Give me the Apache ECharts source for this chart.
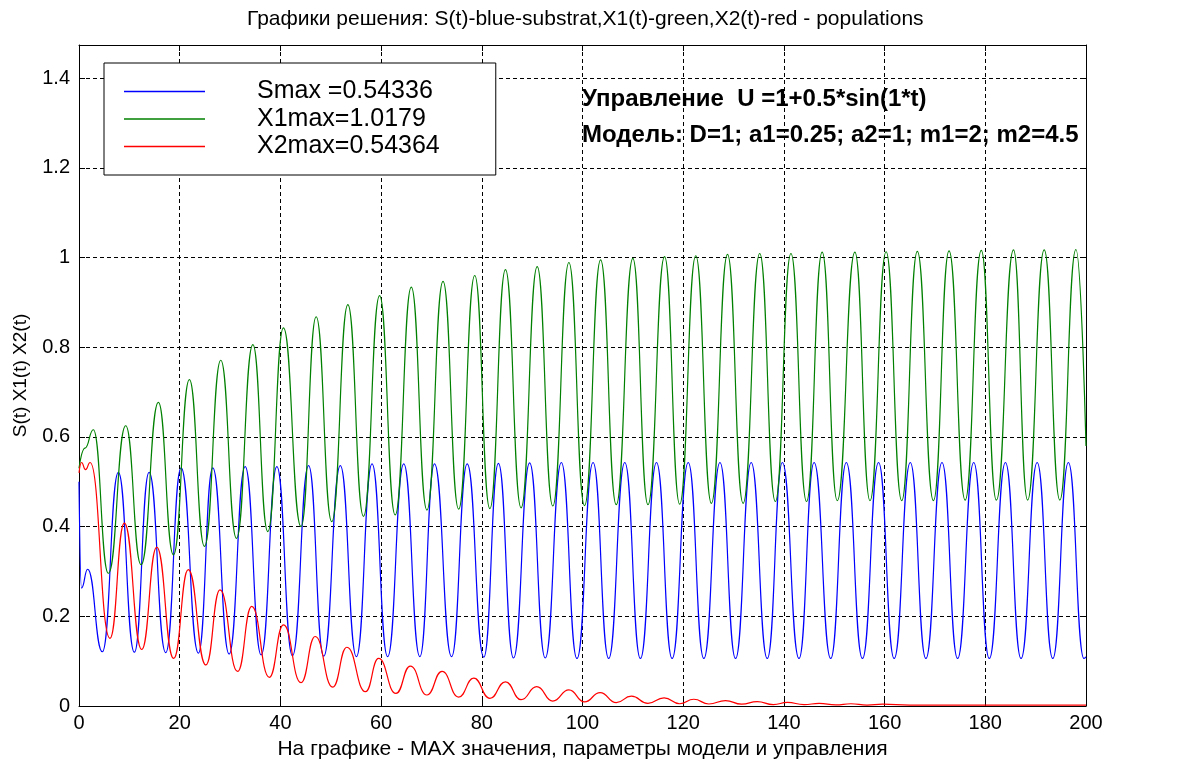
<!DOCTYPE html>
<html>
<head>
<meta charset="utf-8">
<script src="https://cdn.jsdelivr.net/npm/echarts@6/dist/echarts.min.js"></script>
<style>
  html, body { margin: 0; padding: 0; background: #ffffff; }
  #chart { width: 1189px; height: 767px; }
</style>
</head>
<body>
<div id="chart"></div>
<script>
// time points and values (peaks / troughs of each curve)
const sTime = [0, 0.5, 1.72, 4.64, 7.82, 11.0, 13.92, 17.23, 20.28, 23.72, 26.57, 29.82, 33.0, 36.18, 39.3,
  42.4, 45.6, 48.6, 51.9, 55.1, 58.2, 61.3, 64.5, 67.7, 70.6, 74.0, 77.1, 80.4, 83.3, 86.3, 89.5,
  92.6, 95.8, 98.9, 102.1, 105.2, 108.4, 111.5, 114.7, 117.8, 121.0, 124.1, 127.3, 130.4, 133.5,
  136.7, 139.7, 143.0, 146.0, 149.3, 152.4, 155.6, 158.8, 161.9, 165.1, 168.2, 171.4, 174.5, 177.7,
  180.8, 184.0, 187.1, 190.3, 193.4, 196.5, 199.6, 200]
const sValue = [0.50, 0.263, 0.305, 0.121, 0.521, 0.120, 0.521, 0.119, 0.531, 0.118, 0.531, 0.116, 0.534, 0.114, 0.534,
  0.112, 0.536, 0.111, 0.536, 0.110, 0.540, 0.110, 0.540, 0.110, 0.540, 0.110, 0.540, 0.109, 0.541, 0.107, 0.542,
  0.107, 0.543, 0.106, 0.543, 0.106, 0.543, 0.106, 0.543, 0.106, 0.543, 0.106, 0.543, 0.106, 0.543,
  0.106, 0.543, 0.106, 0.543, 0.106, 0.543, 0.106, 0.543, 0.106, 0.543, 0.106, 0.543, 0.106, 0.543,
  0.106, 0.543, 0.106, 0.543, 0.106, 0.543, 0.106, 0.11]

const x1Time = [0, 1.2, 2.85, 5.83, 9.28, 12.33, 15.77, 18.75, 21.93, 24.92, 28.16, 31.28, 34.53, 37.5,
  40.6, 44.1, 47.1, 50.2, 53.4, 56.5, 59.7, 62.8, 66.0, 69.1, 72.3, 75.4, 78.6, 81.6, 84.7, 87.8,
  91.0, 94.1, 97.3, 100.4, 103.6, 106.7, 110.0, 113.0, 116.3, 119.3, 122.5, 125.6, 128.8, 131.9,
  135.2, 138.3, 141.4, 144.5, 147.6, 150.6, 154.1, 157.1, 160.3, 163.4, 166.5, 169.7, 172.8, 176.0,
  179.2, 182.2, 185.6, 188.4, 191.7, 194.8, 198.0, 200]
const x1Value = [0.53, 0.575, 0.616, 0.296, 0.625, 0.315, 0.677, 0.337, 0.728, 0.356, 0.771, 0.374, 0.806, 0.389,
  0.843, 0.400, 0.868, 0.411, 0.895, 0.423, 0.915, 0.426, 0.934, 0.437, 0.947, 0.439, 0.960, 0.440, 0.973, 0.442,
  0.980, 0.446, 0.989, 0.447, 0.995, 0.449, 0.998, 0.449, 1.002, 0.450, 1.004, 0.452, 1.007, 0.452,
  1.009, 0.456, 1.009, 0.456, 1.012, 0.458, 1.012, 0.458, 1.013, 0.458, 1.014, 0.458, 1.015, 0.459,
  1.016, 0.459, 1.017, 0.459, 1.017, 0.459, 1.018, 0.58]

const x2Time = [0, 0.5, 1.3, 2.2, 6.16, 9.0, 12.46, 15.44, 18.8, 21.7, 25.2, 28.0, 31.5, 34.3, 37.8,
  40.6, 44.1, 46.9, 50.4, 53.2, 56.9, 59.5, 62.95, 65.8, 69.1, 72.1, 75.4, 78.4, 81.6, 84.7, 87.8,
  90.9, 94.1, 97.3, 100.4, 103.5, 106.7, 109.7, 113.0, 116.2, 119.3, 122.1, 125.1, 128.4, 131.6,
  134.7, 137.9, 140.7, 144.0, 147.0, 150.3, 153.3, 156.5, 159.6, 165, 200]
const x2Value = [0.52, 0.543, 0.527, 0.543, 0.151, 0.408, 0.126, 0.354, 0.106, 0.304, 0.0915, 0.259, 0.077, 0.222, 0.064,
  0.181, 0.052, 0.155, 0.042, 0.131, 0.032, 0.106, 0.028, 0.089, 0.0245, 0.077, 0.020, 0.062, 0.017, 0.054, 0.014,
  0.043, 0.011, 0.036, 0.009, 0.030, 0.0075, 0.022, 0.006, 0.018, 0.005, 0.015, 0.0045, 0.012, 0.004,
  0.0097, 0.003, 0.008, 0.003, 0.006, 0.0025, 0.005, 0.002, 0.004, 0.002, 0.002]

const xTicks = [0, 20, 40, 60, 80, 100, 120, 140, 160, 180, 200]
const yTicks = ['0', '0.2', '0.4', '0.6', '0.8', '1', '1.2', '1.4']
const legendNames = ['Smax =0.54336', 'X1max=1.0179', 'X2max=0.54364']

const titleText = 'Графики решения: S(t)-blue-substrat,X1(t)-green,X2(t)-red - populations'
const noteLines = ['Управление  U =1+0.5*sin(1*t)', 'Модель: D=1; a1=0.25; a2=1; m1=2; m2=4.5']
const xName = 'На графике - MAX значения, параметры модели и управления'
const yName = 'S(t) X1(t) X2(t)'

const font = '"Liberation Sans", Arial, sans-serif'

const pairs = (ts, vs) => ts.map((t, i) => [t, vs[i]])

const gridDash = { color: '#000', width: 1, type: [4, 3] }

const makeLine = (name, color, data) => ({
  name,
  type: 'line',
  data,
  symbol: 'none',
  smooth: 0.5,
  smoothMonotone: 'x',
  lineStyle: { color, width: 1.2 },
  itemStyle: { color },
  animation: false,
  z: 3,
})

const chart = echarts.init(document.getElementById('chart'))

chart.setOption({
  backgroundColor: '#ffffff',
  animation: false,
  textStyle: { fontFamily: font, color: '#000' },
  grid: { left: 79, right: 103, top: 45, bottom: 61, containLabel: false },
  graphic: [
    {
      type: 'text', left: 582 - 335, top: 9,
      style: { text: titleText, font: '21px ' + font, fill: '#000' },
    },
    {
      type: 'text', left: 582, top: 87,
      style: { text: noteLines[0], font: 'bold 24px ' + font, fill: '#000' },
    },
    {
      type: 'text', left: 582, top: 123,
      style: { text: noteLines[1], font: 'bold 24px ' + font, fill: '#000' },
    },
  ],
  legend: {
    orient: 'vertical',
    left: 104,
    top: 63,
    data: legendNames,
    icon: 'rect',
    backgroundColor: '#fff',
    borderColor: '#000',
    borderWidth: 1,
    padding: [16, 56, 16, 20],
    itemWidth: 81,
    itemHeight: 1.5,
    itemGap: 2.5,
    itemStyle: { borderWidth: 0 },
    textStyle: { fontFamily: font, fontSize: 25, lineHeight: 25, color: '#000', padding: [0, 0, 0, 47] },
    selectedMode: false,
    z: 5,
  },
  xAxis: [
    {
      type: 'value', min: 0, max: 200, interval: 20, position: 'bottom',
      name: xName, nameLocation: 'middle', nameGap: 33,
      nameTextStyle: { fontFamily: font, fontSize: 21, color: '#000' },
      axisLine: { show: true, onZero: false, lineStyle: { color: '#000', width: 1 } },
      axisTick: { show: true, inside: true, length: 6, lineStyle: { color: '#000' } },
      axisLabel: {
        fontFamily: font, fontSize: 20, color: '#000', margin: 7,
        formatter: (v) => (xTicks.includes(v) ? String(v) : ''),
      },
      splitLine: { show: true, lineStyle: gridDash },
    },
    {
      type: 'value', min: 0, max: 200, interval: 20, position: 'top',
      axisLine: { show: true, onZero: false, lineStyle: { color: '#000', width: 1 } },
      axisTick: { show: true, inside: true, length: 6, lineStyle: { color: '#000' } },
      axisLabel: { show: false },
      splitLine: { show: false },
    },
  ],
  yAxis: [
    {
      type: 'value', min: 0, max: 1.474, interval: 0.2, position: 'left',
      name: yName, nameLocation: 'middle', nameGap: 49, nameRotate: 90,
      nameTextStyle: { fontFamily: font, fontSize: 19, color: '#000' },
      axisLine: { show: true, onZero: false, lineStyle: { color: '#000', width: 1 } },
      axisTick: { show: true, inside: true, length: 6, lineStyle: { color: '#000' } },
      axisLabel: {
        fontFamily: font, fontSize: 20, color: '#000', margin: 9, showMaxLabel: false,
        formatter: (v) => {
          const k = Math.round(v / 0.2)
          return Math.abs(v - k * 0.2) < 1e-6 && yTicks[k] !== undefined ? yTicks[k] : ''
        },
      },
      splitLine: { show: true, lineStyle: gridDash },
    },
    {
      type: 'value', min: 0, max: 1.474, interval: 0.2, position: 'right',
      axisLine: { show: true, onZero: false, lineStyle: { color: '#000', width: 1 } },
      axisTick: { show: true, inside: true, length: 6, lineStyle: { color: '#000' } },
      axisLabel: { show: false },
      splitLine: { show: false },
    },
  ],
  series: [
    makeLine(legendNames[0], '#0000ff', pairs(sTime, sValue)),
    makeLine(legendNames[1], '#008000', pairs(x1Time, x1Value)),
    makeLine(legendNames[2], '#ff0000', pairs(x2Time, x2Value)),
  ],
})
</script>
</body>
</html>
